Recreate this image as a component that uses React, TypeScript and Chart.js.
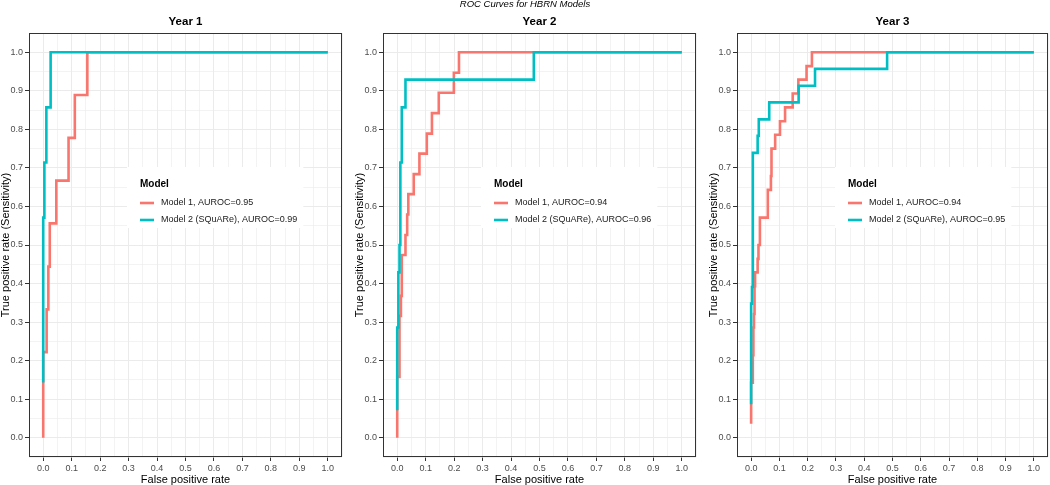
import React, { useEffect, useRef } from "react";
import { Chart, registerables } from "chart.js";

Chart.register(...registerables);

// ---------------- data ----------------
const mainTitle = "ROC Curves for HBRN Models";
const panelTitles = ["Year 1", "Year 2", "Year 3"];
const legendTitle = "Model";
const modelNames = ["Model 1", "Model 2 (SQuARe)"];
const aurocModel1 = [0.95, 0.94, 0.94];
const aurocModel2 = [0.99, 0.96, 0.95];
const xAxisTitle = "False positive rate";
const yAxisTitle = "True positive rate (Sensitivity)";
const tickLabels = ["0.0", "0.1", "0.2", "0.3", "0.4", "0.5", "0.6", "0.7", "0.8", "0.9", "1.0"];

// Year 1
const y1m1Fpr = [0, 0, 0.012, 0.018, 0.023, 0.046, 0.089, 0.111, 0.155, 1];
const y1m1Tpr = [0, 0.222, 0.333, 0.444, 0.556, 0.667, 0.778, 0.889, 1, 1];
const y1m2Fpr = [0, 0, 0.004, 0.011, 0.026, 1];
const y1m2Tpr = [0.143, 0.571, 0.714, 0.857, 1, 1];

// Year 2
const y2m1Fpr = [0, 0, 0.008, 0.013, 0.016, 0.029, 0.035, 0.039, 0.058, 0.078, 0.104, 0.122, 0.146, 0.199, 0.217, 1];
const y2m1Tpr = [0, 0.158, 0.316, 0.368, 0.474, 0.526, 0.579, 0.632, 0.684, 0.737, 0.789, 0.842, 0.895, 0.947, 1, 1];
const y2m2Fpr = [0, 0, 0.004, 0.008, 0.011, 0.016, 0.029, 0.48, 1];
const y2m2Tpr = [0.071, 0.286, 0.429, 0.5, 0.714, 0.857, 0.929, 1, 1];

// Year 3
const y3m1Fpr = [0, 0, 0.006, 0.008, 0.01, 0.012, 0.014, 0.023, 0.026, 0.031, 0.059, 0.07, 0.072, 0.085, 0.102, 0.12, 0.147, 0.167, 0.196, 0.215, 1];
const y3m1Tpr = [0.036, 0.143, 0.214, 0.286, 0.321, 0.393, 0.429, 0.464, 0.5, 0.571, 0.643, 0.679, 0.75, 0.786, 0.821, 0.857, 0.893, 0.929, 0.964, 1, 1];
const y3m2Fpr = [0, 0, 0.003, 0.006, 0.023, 0.027, 0.064, 0.168, 0.226, 0.481, 1];
const y3m2Tpr = [0.087, 0.348, 0.391, 0.739, 0.783, 0.826, 0.87, 0.913, 0.957, 1, 1];

const model1Fpr = [y1m1Fpr, y2m1Fpr, y3m1Fpr];
const model1Tpr = [y1m1Tpr, y2m1Tpr, y3m1Tpr];
const model2Fpr = [y1m2Fpr, y2m2Fpr, y3m2Fpr];
const model2Tpr = [y1m2Tpr, y2m2Tpr, y3m2Tpr];

// ---------------- styling / layout ----------------
const FONT = "'Liberation Sans', Arial, Helvetica, sans-serif";
const RED = "#F8766D";
const CYAN = "#00BFC4";
const GRID = "#EBEBEB";
const AXIS_DARK = "#333333";
const TICK_TEXT = "#4D4D4D";

const panelGeom = [
  { left: 0, width: 346, padRight: 4 },
  { left: 354, width: 346, padRight: 4 },
  { left: 708, width: 342, padRight: 1 },
];
const HEIGHT = 485;

function majorIndex(v: number): number {
  const k = Math.round(v * 10);
  return Math.abs(v * 10 - k) < 1e-6 && k >= 0 && k <= 10 ? k : -1;
}

function toPoints(xs: number[], ys: number[]) {
  return xs.map((x, i) => ({ x, y: ys[i] }));
}

function makeScale(isX: boolean) {
  return {
    type: "linear" as const,
    min: -0.05,
    max: 1.05,
    afterFit: (s: any) => {
      if (isX) s.height = 28;
      else s.width = 29;
    },
    ticks: {
      stepSize: 0.05,
      autoSkip: false,
      maxRotation: 0,
      minRotation: 0,
      padding: 2,
      color: TICK_TEXT,
      font: { family: FONT, size: 9 },
      callback: (v: any) => {
        const k = majorIndex(Number(v));
        return k >= 0 ? tickLabels[k] : "";
      },
    },
    grid: {
      color: GRID,
      lineWidth: (ctx: any) => (ctx.tick && majorIndex(ctx.tick.value) >= 0 ? 1 : 0.6),
      drawTicks: true,
      tickLength: 4,
      tickWidth: 1,
      tickColor: (ctx: any) =>
        ctx.tick && majorIndex(ctx.tick.value) >= 0 ? AXIS_DARK : "rgba(0,0,0,0)",
    },
    border: { display: false },
    title: {
      display: true,
      text: isX ? xAxisTitle : yAxisTitle,
      color: "#000000",
      font: { family: FONT, size: 11, lineHeight: 1 },
      padding: { top: 0, bottom: 0 },
    },
  };
}

function Panel({ idx }: { idx: number }) {
  const ref = useRef<HTMLCanvasElement | null>(null);
  const g = panelGeom[idx];

  useEffect(() => {
    if (!ref.current) return;
    const labels = [
      `${modelNames[0]}, AUROC=${aurocModel1[idx].toFixed(2)}`,
      `${modelNames[1]}, AUROC=${aurocModel2[idx].toFixed(2)}`,
    ];
    const colors = [RED, CYAN];

    const decor = {
      id: "panelDecor" + idx,
      afterDatasetsDraw(chart: any) {
        const { ctx, chartArea } = chart;
        const L = chartArea.left;
        ctx.save();
        // legend
        ctx.font = `9px ${FONT}`;
        const textX = L + 132;
        let maxEnd = 0;
        labels.forEach((t) => {
          maxEnd = Math.max(maxEnd, textX + ctx.measureText(t).width);
        });
        const boxL = L + 98;
        const boxT = 167;
        ctx.fillStyle = "#FFFFFF";
        ctx.fillRect(boxL, boxT, maxEnd + 6 - boxL, 61);
        ctx.fillStyle = "#000000";
        ctx.textBaseline = "middle";
        ctx.textAlign = "left";
        ctx.font = `bold 10px ${FONT}`;
        ctx.fillText(legendTitle, L + 111, 184.5);
        ctx.font = `9px ${FONT}`;
        const ys = [203, 220];
        labels.forEach((t, i) => {
          ctx.strokeStyle = colors[i];
          ctx.lineWidth = 2.6;
          ctx.beginPath();
          ctx.moveTo(L + 111, ys[i]);
          ctx.lineTo(L + 125, ys[i]);
          ctx.stroke();
          ctx.fillStyle = "#1A1A1A";
          ctx.fillText(t, textX, ys[i]);
        });
        ctx.restore();
      },
      afterDraw(chart: any) {
        const { ctx, chartArea } = chart;
        ctx.save();
        ctx.strokeStyle = AXIS_DARK;
        ctx.lineWidth = 1;
        const l = Math.round(chartArea.left) + 0.5;
        const t = Math.round(chartArea.top) + 0.5;
        const r = Math.round(chartArea.right) - 0.5;
        const b = Math.round(chartArea.bottom) - 0.5;
        ctx.strokeRect(l, t, r - l, b - t);
        ctx.fillStyle = "#000000";
        ctx.font = `bold 11.5px ${FONT}`;
        ctx.textAlign = "center";
        ctx.textBaseline = "middle";
        ctx.fillText(panelTitles[idx], (chartArea.left + chartArea.right) / 2, 22);
        ctx.restore();
      },
    };

    const chart = new Chart(ref.current, {
      type: "line",
      data: {
        datasets: [
          {
            label: labels[0],
            data: toPoints(model1Fpr[idx], model1Tpr[idx]),
            borderColor: RED,
            backgroundColor: RED,
            borderWidth: 2.6,
            stepped: "before",
            pointRadius: 0,
            fill: false,
            order: 2,
          },
          {
            label: labels[1],
            data: toPoints(model2Fpr[idx], model2Tpr[idx]),
            borderColor: CYAN,
            backgroundColor: CYAN,
            borderWidth: 2.6,
            stepped: "before",
            pointRadius: 0,
            fill: false,
            order: 1,
          },
        ],
      },
      options: {
        animation: false,
        responsive: false,
        maintainAspectRatio: false,
        devicePixelRatio: 1,
        events: [],
        layout: { padding: { top: 33, right: g.padRight, bottom: 0, left: 0 } },
        plugins: {
          legend: { display: false },
          tooltip: { enabled: false },
          title: { display: false },
        },
        scales: {
          x: makeScale(true) as any,
          y: makeScale(false) as any,
        },
      },
      plugins: [decor],
    } as any);
    return () => chart.destroy();
  }, [idx]);

  return (
    <canvas
      ref={ref}
      width={g.width}
      height={HEIGHT}
      style={{ position: "absolute", left: g.left, top: 0, width: g.width, height: HEIGHT }}
    />
  );
}

export default function App() {
  return (
    <div
      style={{
        position: "fixed",
        left: 0,
        top: 0,
        width: 1050,
        height: HEIGHT,
        background: "#FFFFFF",
        overflow: "hidden",
      }}
    >
      {[0, 1, 2].map((i) => (
        <Panel key={i} idx={i} />
      ))}
      <div
        style={{
          position: "absolute",
          left: 0,
          top: -1.5,
          width: 1050,
          textAlign: "center",
          fontFamily: FONT,
          fontStyle: "italic",
          fontSize: "9.5px",
          lineHeight: "10px",
          color: "#000000",
        }}
      >
        {mainTitle}
      </div>
    </div>
  );
}
